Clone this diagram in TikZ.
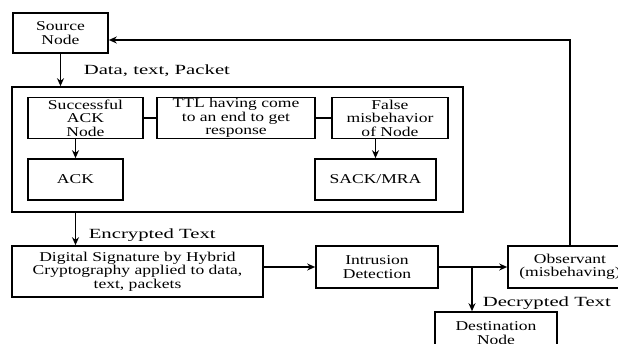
\documentclass[tikz,border=0pt]{standalone}
\usepackage{fontspec}
\setmainfont{Liberation Serif}
\newfontfamily\boxfont[FakeStretch=1.3]{Liberation Serif}
\newfontfamily\lblfont[FakeStretch=1.48]{Liberation Serif}
\usetikzlibrary{arrows.meta,positioning}
\begin{document}
\begin{tikzpicture}[x=1pt,y=-1pt,line width=1.6pt,>={Stealth[length=8pt,width=7pt]}]
\tikzstyle{bigbox} = [draw, rectangle, inner sep=0pt, minimum width=451pt, minimum height=125pt]
\tikzstyle{box} = [draw, rectangle, align=center, inner sep=0pt, minimum height=41pt, font=\boxfont\fontsize{13.5}{13.5}\selectfont]
\tikzstyle{lbl} = [anchor=west, inner sep=0pt, font=\lblfont\fontsize{14}{14}\selectfont]
%
\clip (0,0) rectangle (618,344);
\node[box, minimum width=95pt, minimum height=40pt] (src) at (60.5,33) {Source\\Node};
\node[bigbox] (outer) at (237.5,149.5) {};
\node[box, minimum width=115pt] (succ) at (85.5,118) {Successful\\ACK\\Node};
\node[box, minimum width=158pt] (ttl) at (236,118) {TTL having come\\to an end to get\\response};
\node[box, minimum width=116pt] (false) at (390,118) {False\\misbehavior\\of Node};
\node[box, minimum width=95pt] (ack) at (75.5,179.5) {ACK};
\node[box, minimum width=121pt] (sack) at (375.5,179.5) {SACK/MRA};
\node[box, minimum width=251pt, minimum height=51pt] (dsig) at (137.5,271.5) {Digital Signature by Hybrid\\Cryptography applied to data,\\text, packets};
\node[box, minimum width=122pt, minimum height=42pt] (ids) at (377,267) {Intrusion\\Detection};
\node[box, minimum width=124pt, minimum height=42pt] (obs) at (570,267) {Observant\\(misbehaving)};
\node[box, minimum width=122pt, minimum height=42pt] (dest) at (496,333) {Destination\\Node};
\coordinate (split) at (472,267);
% labels
\node[lbl] (datalbl) at (83,71) {Data, text, Packet};
\node[lbl] (enclbl) at (88,235) {Encrypted Text};
\node[lbl] (declbl) at (482,303) {Decrypted Text};
% connectors
\draw[->] (src.south) -- (src.south |- outer.north);
\draw (succ.east) -- (ttl.west);
\draw (ttl.east) -- (false.west);
\draw[->] (ack.north |- succ.south) -- (ack.north);
\draw[->] (sack.north |- false.south) -- (sack.north);
\draw[->] (ack.north |- outer.south) -- (ack.north |- dsig.north);
\draw[->] (dsig.east |- ids.west) -- (ids.west);
\draw[->] (ids.east) -- (obs.west);
\draw[->] (split) -- (split |- dest.north);
\draw[->] (obs.north) |- ([yshift=-7pt]src.east);
\end{tikzpicture}
\end{document}
